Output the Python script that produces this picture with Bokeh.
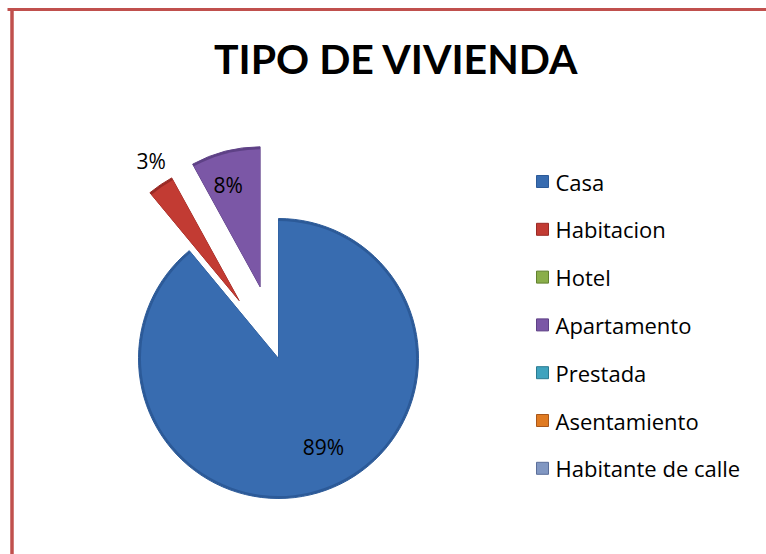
import numpy as np
from bokeh.plotting import figure
from bokeh.models import Range1d, ColumnDataSource
from bokeh.embed import file_html
from bokeh.resources import INLINE
from bokeh.core.properties import value

# ---- data ----
title_text = "TIPO DE VIVIENDA"
categories = ["Casa", "Habitacion", "Hotel", "Apartamento", "Prestada",
              "Asentamiento", "Habitante de calle"]
percentages = [89, 3, 0, 8, 0, 0, 0]
colors = ["#386CB0", "#C23B33", "#8AAE4A", "#7B57A6", "#3FA3BE", "#E07B22", "#8197C2"]
edge_colors = ["#2C5A98", "#9A2A25", "#62812F", "#5E4186", "#2A7A90", "#A9571A", "#5B6E99"]

# ---- styling / layout ----
W, H = 766, 554
cx, cy, R = 278, 196, 140
explode = [0, 70, 0, 74, 0, 0, 0]
label_r = [0.71, 1.18, 0, 0.76, 0, 0, 0]
label_nudge_deg = [7, -2, 0, 3, 0, 0, 0]
FONT = "Lato"
LEG_FONT = "Open Sans"

p = figure(width=W, height=H, x_range=Range1d(0, W), y_range=Range1d(0, H),
           output_backend="svg", toolbar_location=None, min_border=0)
p.axis.visible = False
p.grid.visible = False
p.outline_line_color = None
p.background_fill_color = "white"

# border lines (top and left)
p.line(x=[7, W], y=[545, 545], line_color="#C0504D", line_width=3)
p.line(x=[11.5, 11.5], y=[0, 546.5], line_color="#C0504D", line_width=3.5)

# title
p.text(x=[396], y=[496], text=[title_text], text_font=value(FONT),
       text_font_size="41px", text_font_style="bold", text_align="center",
       text_baseline="middle", text_color="black")

# pie
total = float(sum(percentages))
cum = np.cumsum([0] + percentages) / total
wx, wy, sa, ea, fc, lc = [], [], [], [], [], []
lx, ly, lt = [], [], []
for i, v in enumerate(percentages):
    if v <= 0:
        continue
    s_cw = cum[i] * 2 * np.pi
    e_cw = cum[i + 1] * 2 * np.pi
    mid = np.pi / 2 - (s_cw + e_cw) / 2
    x0 = cx + explode[i] * np.cos(mid)
    y0 = cy + explode[i] * np.sin(mid)
    wx.append(x0); wy.append(y0)
    sa.append(np.pi / 2 - e_cw); ea.append(np.pi / 2 - s_cw)
    fc.append(colors[i]); lc.append(edge_colors[i])
    la = mid + np.deg2rad(label_nudge_deg[i])
    lx.append(x0 + label_r[i] * R * np.cos(la))
    ly.append(y0 + label_r[i] * R * np.sin(la))
    lt.append(f"{v}%")

src = ColumnDataSource(dict(x=wx, y=wy, sa=sa, ea=ea, fc=fc, lc=lc))
p.wedge(x="x", y="y", radius=R, start_angle="sa", end_angle="ea",
        fill_color="lc", line_color="lc", line_width=1, source=src)
p.wedge(x="x", y="y", radius=R - 2.5, start_angle="sa", end_angle="ea",
        fill_color="fc", line_color=None, source=src)

p.text(x=lx, y=ly, text=lt, text_font=value(LEG_FONT), text_font_size="21px",
       text_align="center", text_baseline="middle", text_color="black")

# legend
ly0, step = 373, 47.8
leg_y = [ly0 - k * step for k in range(len(categories))]
p.scatter(x=[542] * len(categories), y=leg_y, marker="square", size=12,
          fill_color=colors, line_color=edge_colors, line_width=1)
p.text(x=[555] * len(categories), y=leg_y, text=categories, text_font=value(LEG_FONT),
       text_font_size="22px", text_align="left", text_baseline="middle",
       text_color="black")

open("out.html", "w").write(file_html(p, INLINE))
